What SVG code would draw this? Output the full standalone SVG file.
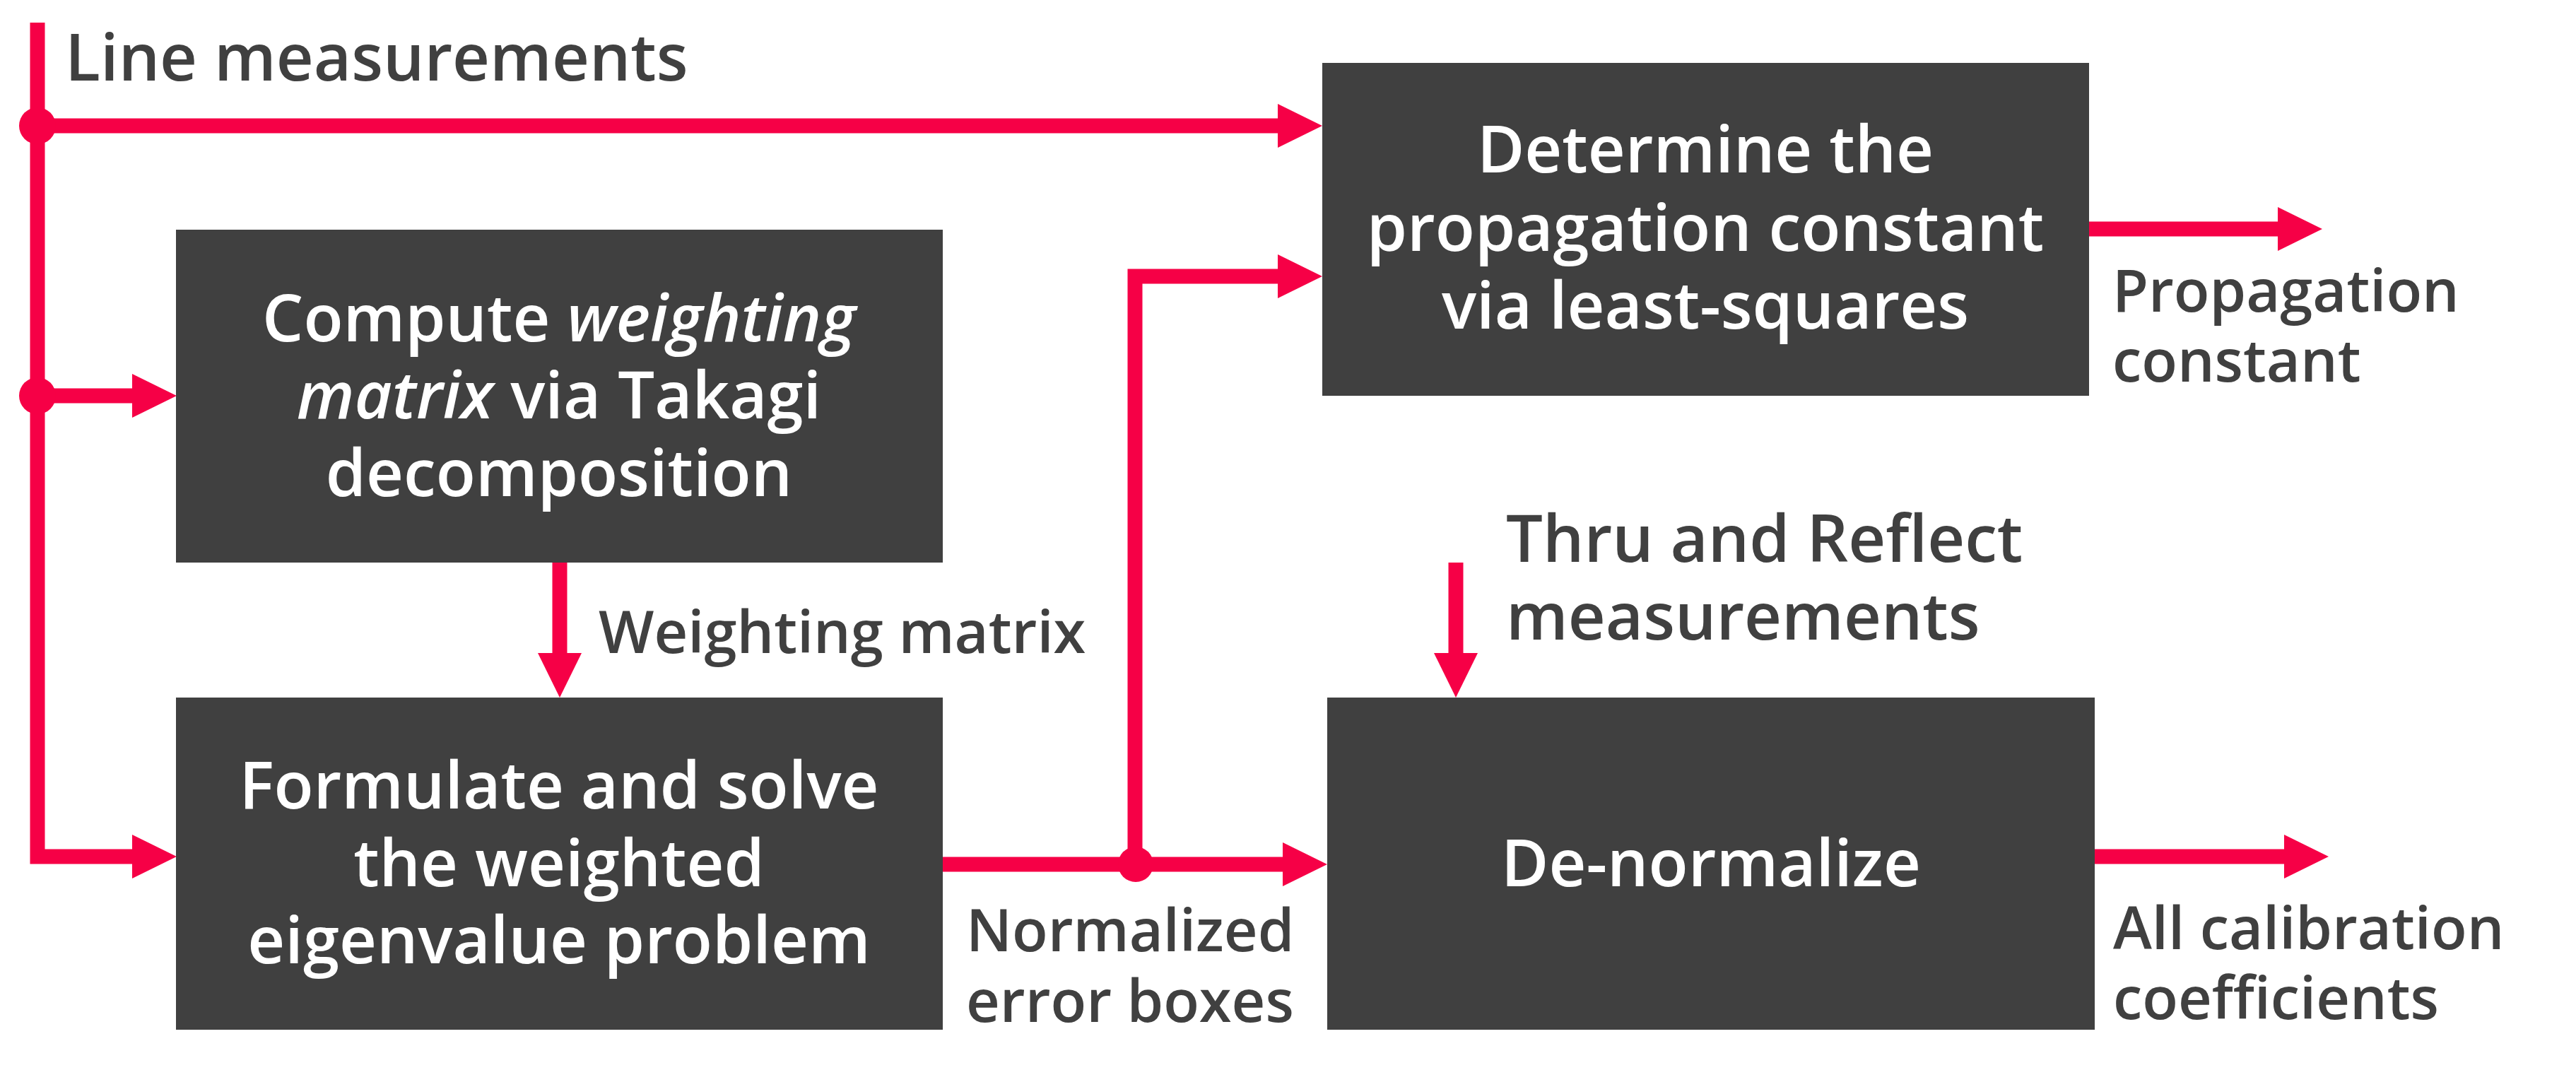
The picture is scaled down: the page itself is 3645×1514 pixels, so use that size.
<svg xmlns="http://www.w3.org/2000/svg" width="3645" height="1514" viewBox="0 0 3645 1514">
<defs>
<style>
.box{fill:#404040}
.bt{font-family:"Open Sans","Liberation Sans",sans-serif;font-weight:600;font-size:92px;fill:#ffffff;text-anchor:middle}
.lb{font-family:"Open Sans","Liberation Sans",sans-serif;font-weight:600;fill:#404040}
.it{font-style:italic}
.c{fill:none;stroke:#F60046;stroke-width:21;stroke-linejoin:miter;stroke-linecap:butt}
.dot{fill:#F60046}
</style>
<marker id="ah" markerUnits="userSpaceOnUse" markerWidth="64" markerHeight="64" refX="0" refY="31" orient="auto" viewBox="0 0 64 62">
<path d="M0,0 L63,31 L0,62 z" fill="#F60046"/>
</marker>
</defs>
<rect width="3645" height="1514" fill="#ffffff"/>

<g id="connectors">
<path class="c" d="M53,32 V1212 H187" marker-end="url(#ah)"/>
<path class="c" d="M53,178 H1808" marker-end="url(#ah)"/>
<path class="c" d="M53,560 H187" marker-end="url(#ah)"/>
<path class="c" d="M792,796 V924" marker-end="url(#ah)"/>
<path class="c" d="M1334,1223 H1815" marker-end="url(#ah)"/>
<path class="c" d="M1606,1223 V391 H1808" marker-end="url(#ah)"/>
<path class="c" d="M2956,324 H3223" marker-end="url(#ah)"/>
<path class="c" d="M2060,796 V924" marker-end="url(#ah)"/>
<path class="c" d="M2964,1212 H3232" marker-end="url(#ah)"/>
<circle class="dot" cx="53" cy="178" r="26"/>
<circle class="dot" cx="53" cy="560" r="26"/>
<circle class="dot" cx="1607" cy="1223" r="25"/>
</g>

<g id="label-line">
<text class="lb" x="92" y="114" font-size="92">Line measurements</text>
</g>
<g id="label-weighting">
<text class="lb" x="847" y="924" font-size="83">Weighting matrix</text>
</g>
<g id="label-normalized">
<text class="lb" x="1367" y="1346" font-size="83">Normalized</text>
<text class="lb" x="1367" y="1446" font-size="83">error boxes</text>
</g>
<g id="label-thru">
<text class="lb" x="2131" y="795" font-size="92">Thru and Reflect</text>
<text class="lb" x="2131" y="905" font-size="92">measurements</text>
</g>
<g id="label-propagation">
<text class="lb" x="2989" y="441" font-size="83">Propagation</text>
<text class="lb" x="2989" y="540" font-size="83">constant</text>
</g>
<g id="label-all">
<text class="lb" x="2990" y="1343" font-size="83">All calibration</text>
<text class="lb" x="2990" y="1442" font-size="83">coefficients</text>
</g>

<g id="node-compute">
<rect class="box" x="249" y="325" width="1085" height="471"/>
<text class="bt" x="791" y="483">Compute <tspan class="it">weighting</tspan></text>
<text class="bt" x="791" y="592"><tspan class="it">matrix</tspan> via Takagi</text>
<text class="bt" x="791" y="702">decomposition</text>
</g>
<g id="node-formulate">
<rect class="box" x="249" y="987" width="1085" height="470"/>
<text class="bt" x="791" y="1144">Formulate and solve</text>
<text class="bt" x="791" y="1254">the weighted</text>
<text class="bt" x="791" y="1363">eigenvalue problem</text>
</g>
<g id="node-determine">
<rect class="box" x="1871" y="89" width="1085" height="471"/>
<text class="bt" x="2413" y="244">Determine the</text>
<text class="bt" x="2413" y="355">propagation constant</text>
<text class="bt" x="2413" y="465">via least-squares</text>
</g>
<g id="node-denormalize">
<rect class="box" x="1878" y="987" width="1086" height="470"/>
<text class="bt" x="2421" y="1254">De-normalize</text>
</g>
</svg>
